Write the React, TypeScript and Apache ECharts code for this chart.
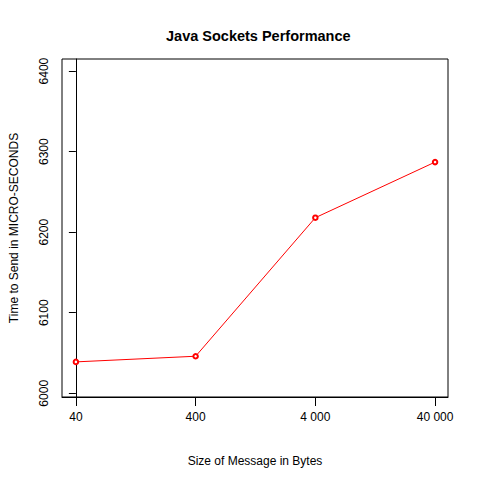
import { useEffect, useRef } from "react";
import * as echarts from "echarts";

const sizes = ["40", "400", "4 000", "40 000"];
const times = [6039, 6046, 6218, 6287];
const yTicks = [6000, 6100, 6200, 6300, 6400];

export default function App() {
  const chartRef = useRef<HTMLDivElement>(null);

  useEffect(() => {
    if (!chartRef.current) return;
    const chart = echarts.init(chartRef.current, null, { renderer: "svg" });
    const font = "Liberation Sans, Arial, sans-serif";
    chart.setOption({
      animation: false,
      backgroundColor: "#fff",
      title: {
        text: "Java Sockets Performance",
        left: 161,
        top: 23,
        textStyle: { fontFamily: font, fontSize: 14.5, fontWeight: "bold", color: "#000" },
      },
      grid: {
        left: 59,
        right: 32,
        top: 59,
        bottom: 83,
        show: true,
        borderColor: "#000",
        borderWidth: 1,
      },
      xAxis: {
        type: "value",
        min: -0.116,
        max: 3.108,
        interval: 1,
        name: "Size of Message in Bytes",
        nameLocation: "middle",
        nameGap: 58,
        nameTextStyle: { fontFamily: font, fontSize: 12, color: "#000" },
        axisLine: { show: true, lineStyle: { color: "#000" } },
        axisTick: { show: true, inside: false, length: 9, lineStyle: { color: "#000" }, customValues: [0, 1, 2, 3] },
        axisLabel: {
          fontFamily: font,
          fontSize: 12,
          color: "#000",
          margin: 14,
          customValues: [0, 1, 2, 3],
          formatter: (v: number) => sizes[Math.round(v)] ?? "",
        },
        splitLine: { show: false },
      },
      yAxis: {
        type: "value",
        min: 5995.4,
        max: 6415,
        name: "Time to Send in MICRO-SECONDS",
        nameLocation: "middle",
        nameGap: 42,
        nameTextStyle: { fontFamily: font, fontSize: 12, color: "#000" },
        axisLine: { show: true, lineStyle: { color: "#000" } },
        axisTick: { show: true, inside: false, length: 7, lineStyle: { color: "#000" }, customValues: yTicks },
        axisLabel: {
          fontFamily: font,
          fontSize: 12,
          color: "#000",
          rotate: 90,
          margin: 12,
          customValues: yTicks,
          formatter: (v: number) => String(v),
        },
        splitLine: { show: false },
      },
      series: [
        {
          type: "line",
          data: times.map((t, i) => [i, t]),
          symbol: "emptyCircle",
          symbolSize: 4.5,
          lineStyle: { color: "#ff0000", width: 1 },
          itemStyle: { color: "#ff0000", borderWidth: 0.8 },
        },
      ],
    });
    return () => chart.dispose();
  }, []);

  return <div ref={chartRef} style={{ width: 480, height: 480, margin: -8 }} />;
}
